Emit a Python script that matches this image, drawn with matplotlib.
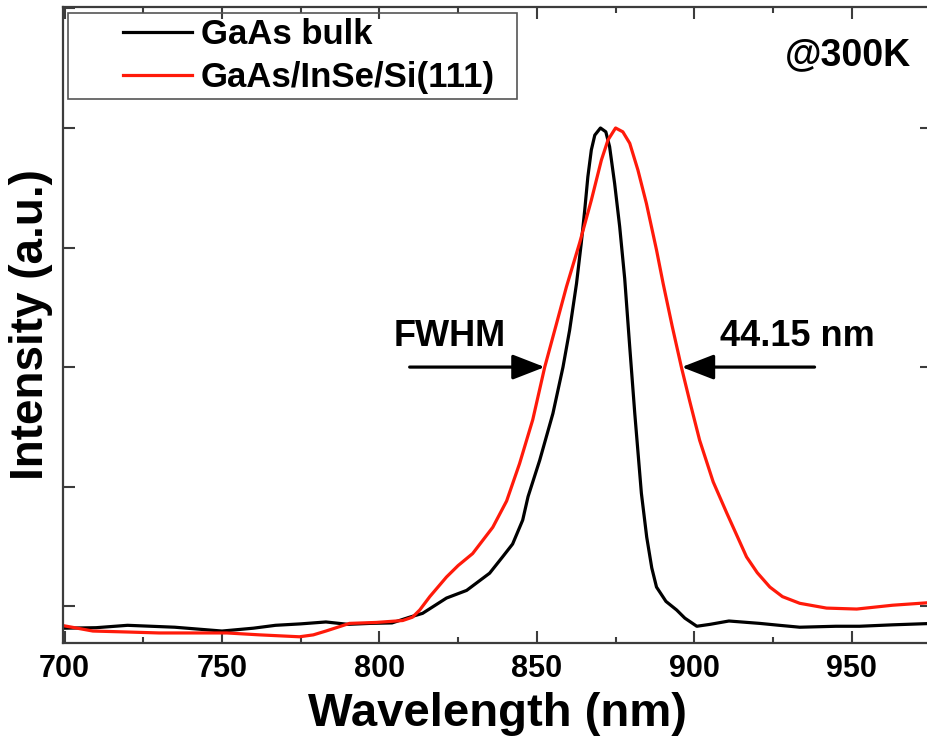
import numpy as np
import matplotlib
matplotlib.use('Agg')
import matplotlib.pyplot as plt
from matplotlib.ticker import MultipleLocator
from matplotlib.patches import Rectangle

plt.rcParams['font.family'] = ['Liberation Sans', 'DejaVu Sans']
plt.rcParams['font.weight'] = 'bold'

# GaAs bulk (normalised PL intensity)
bulk_wl = [700, 710, 720, 735, 750, 760, 767, 775, 783, 790, 797, 804, 809.6,
           813.7, 821.3, 827.7, 835, 839.1, 842.3, 845.5, 847.2, 850.9, 855.1,
           858.3, 860.4, 862.6, 864.1, 865.2, 866.2, 867.3, 868.4, 870.2,
           871.9, 873.1, 874.7, 876.3, 877.9, 879.5, 881.1, 883.2, 884.9,
           886.5, 888, 891, 894.4, 897, 900.8, 905, 911, 920.8, 927, 933.5,
           945, 952.5, 963, 976]
bulk_int = [-0.046, -0.045, -0.040, -0.044, -0.052, -0.046, -0.040, -0.037,
            -0.033, -0.038, -0.036, -0.035, -0.023, -0.015, 0.017, 0.033, 0.069,
            0.103, 0.13, 0.18, 0.229, 0.305, 0.403, 0.50, 0.577, 0.675, 0.759,
            0.828, 0.898, 0.954, 0.985, 1.0, 0.992, 0.961, 0.884, 0.794, 0.685,
            0.542, 0.403, 0.236, 0.144, 0.08, 0.04, 0.01, -0.008, -0.025,
            -0.042, -0.038, -0.031, -0.036, -0.040, -0.044, -0.042, -0.042,
            -0.039, -0.036]

# GaAs/InSe/Si(111)
film_wl = [699, 709, 720, 730, 751.5, 762, 774.6, 779, 783, 790.5, 799, 807.4,
           810.5, 812.8, 816, 821.3, 825, 829.6, 836, 840.4, 844.5, 848.7,
           852.5, 856, 859.4, 863.6, 867.3, 870.5, 872.6, 875, 877.3, 879.5,
           882.1, 884.8, 888, 890.1, 893, 895.9, 898.5, 901.7, 906, 910.3,
           916.6, 920, 924, 928, 933.5, 942, 951.6, 963, 976]
film_int = [-0.040, -0.052, -0.054, -0.056, -0.056, -0.060, -0.064, -0.060,
            -0.052, -0.036, -0.034, -0.030, -0.023, -0.008, 0.02, 0.061, 0.085,
            0.11, 0.165, 0.22, 0.298, 0.39, 0.50, 0.585, 0.668, 0.76, 0.849,
            0.933, 0.975, 1.0, 0.992, 0.968, 0.912, 0.842, 0.745, 0.675, 0.585,
            0.50, 0.43, 0.347, 0.26, 0.195, 0.103, 0.07, 0.04, 0.02, 0.006,
            -0.004, -0.006, 0.002, 0.008]

labels = ['GaAs bulk', 'GaAs/InSe/Si(111)']
fwhm_left = 852.5
fwhm_right = 896.0

W, H = 928, 748
fig = plt.figure(figsize=(W / 100, H / 100), dpi=100)
# axes frame in pixels: left 63, right 932 (cut off), top 7, bottom 643
ax = fig.add_axes([63 / W, (H - 643) / H, (932 - 63) / W, (643 - 7) / H])

ax.plot(bulk_wl, bulk_int, color='black', lw=2.3, label=labels[0],
        solid_joinstyle='round')
ax.plot(film_wl, film_int, color='#ff1a0a', lw=2.3, label=labels[1],
        solid_joinstyle='round')

ax.set_xlim(699.5, 975.5)
ax.set_ylim(-0.077, 1.253)

ax.xaxis.set_major_locator(MultipleLocator(50))
ax.xaxis.set_minor_locator(MultipleLocator(25))
ax.yaxis.set_major_locator(MultipleLocator(0.5))
ax.yaxis.set_minor_locator(MultipleLocator(0.25))
ax.set_yticklabels([])

spine_col = '#3c3c3c'
for s in ax.spines.values():
    s.set_linewidth(1.6)
    s.set_color(spine_col)
ax.tick_params(which='both', direction='in', top=True, right=True,
               color=spine_col, width=1.5)
ax.tick_params(axis='x', which='major', length=8.5, labelsize=22, pad=8)
ax.tick_params(axis='x', which='minor', length=4.5)
ax.tick_params(axis='y', which='both', length=8.5)
ax.tick_params(axis='y', which='minor', right=False)
ax.tick_params(axis='y', labelleft=False)
for t in ax.get_xticklabels():
    t.set_fontweight('bold')

ax.set_xlabel('Wavelength (nm)', fontsize=34, fontweight='bold', labelpad=6)
ax.set_ylabel('Intensity (a.u.)', fontsize=33, fontweight='bold', labelpad=4)


def px(x, y):
    return ((x - 63) / (932 - 63), (643 - y) / (643 - 7))


# legend box and entries
x0, y0 = px(68, 99)
x1, y1 = px(517, 13)
ax.add_patch(Rectangle((x0, y0), x1 - x0, y1 - y0, transform=ax.transAxes,
                       fill=False, lw=1.2, edgecolor='#555555', zorder=5))
lx, ly = px(123, 18)
ax.legend(loc='upper left', bbox_to_anchor=(lx, ly), frameon=False,
          borderpad=0, borderaxespad=0, handlelength=2.0, handletextpad=0.25,
          labelspacing=0.3, prop={'size': 25, 'weight': 'bold'})

ax.text(948.7, 1.153, '@300K', fontsize=27, fontweight='bold',
        ha='center', va='center')

# FWHM arrows
arrow = dict(arrowstyle='-|>,head_length=0.9,head_width=0.35', lw=2.3,
             color='black', mutation_scale=22, shrinkA=0, shrinkB=0)
ax.annotate('', xy=(fwhm_left, 0.5), xytext=(809.6, 0.5), arrowprops=arrow)
ax.annotate('', xy=(fwhm_right, 0.5), xytext=(938.2, 0.5), arrowprops=arrow)
ax.text(822.3, 0.563, 'FWHM', fontsize=26, fontweight='bold',
        ha='center', va='center')
ax.text(932.7, 0.563, '44.15 nm', fontsize=26, fontweight='bold',
        ha='center', va='center')

fig.savefig('out.png', dpi=100)
